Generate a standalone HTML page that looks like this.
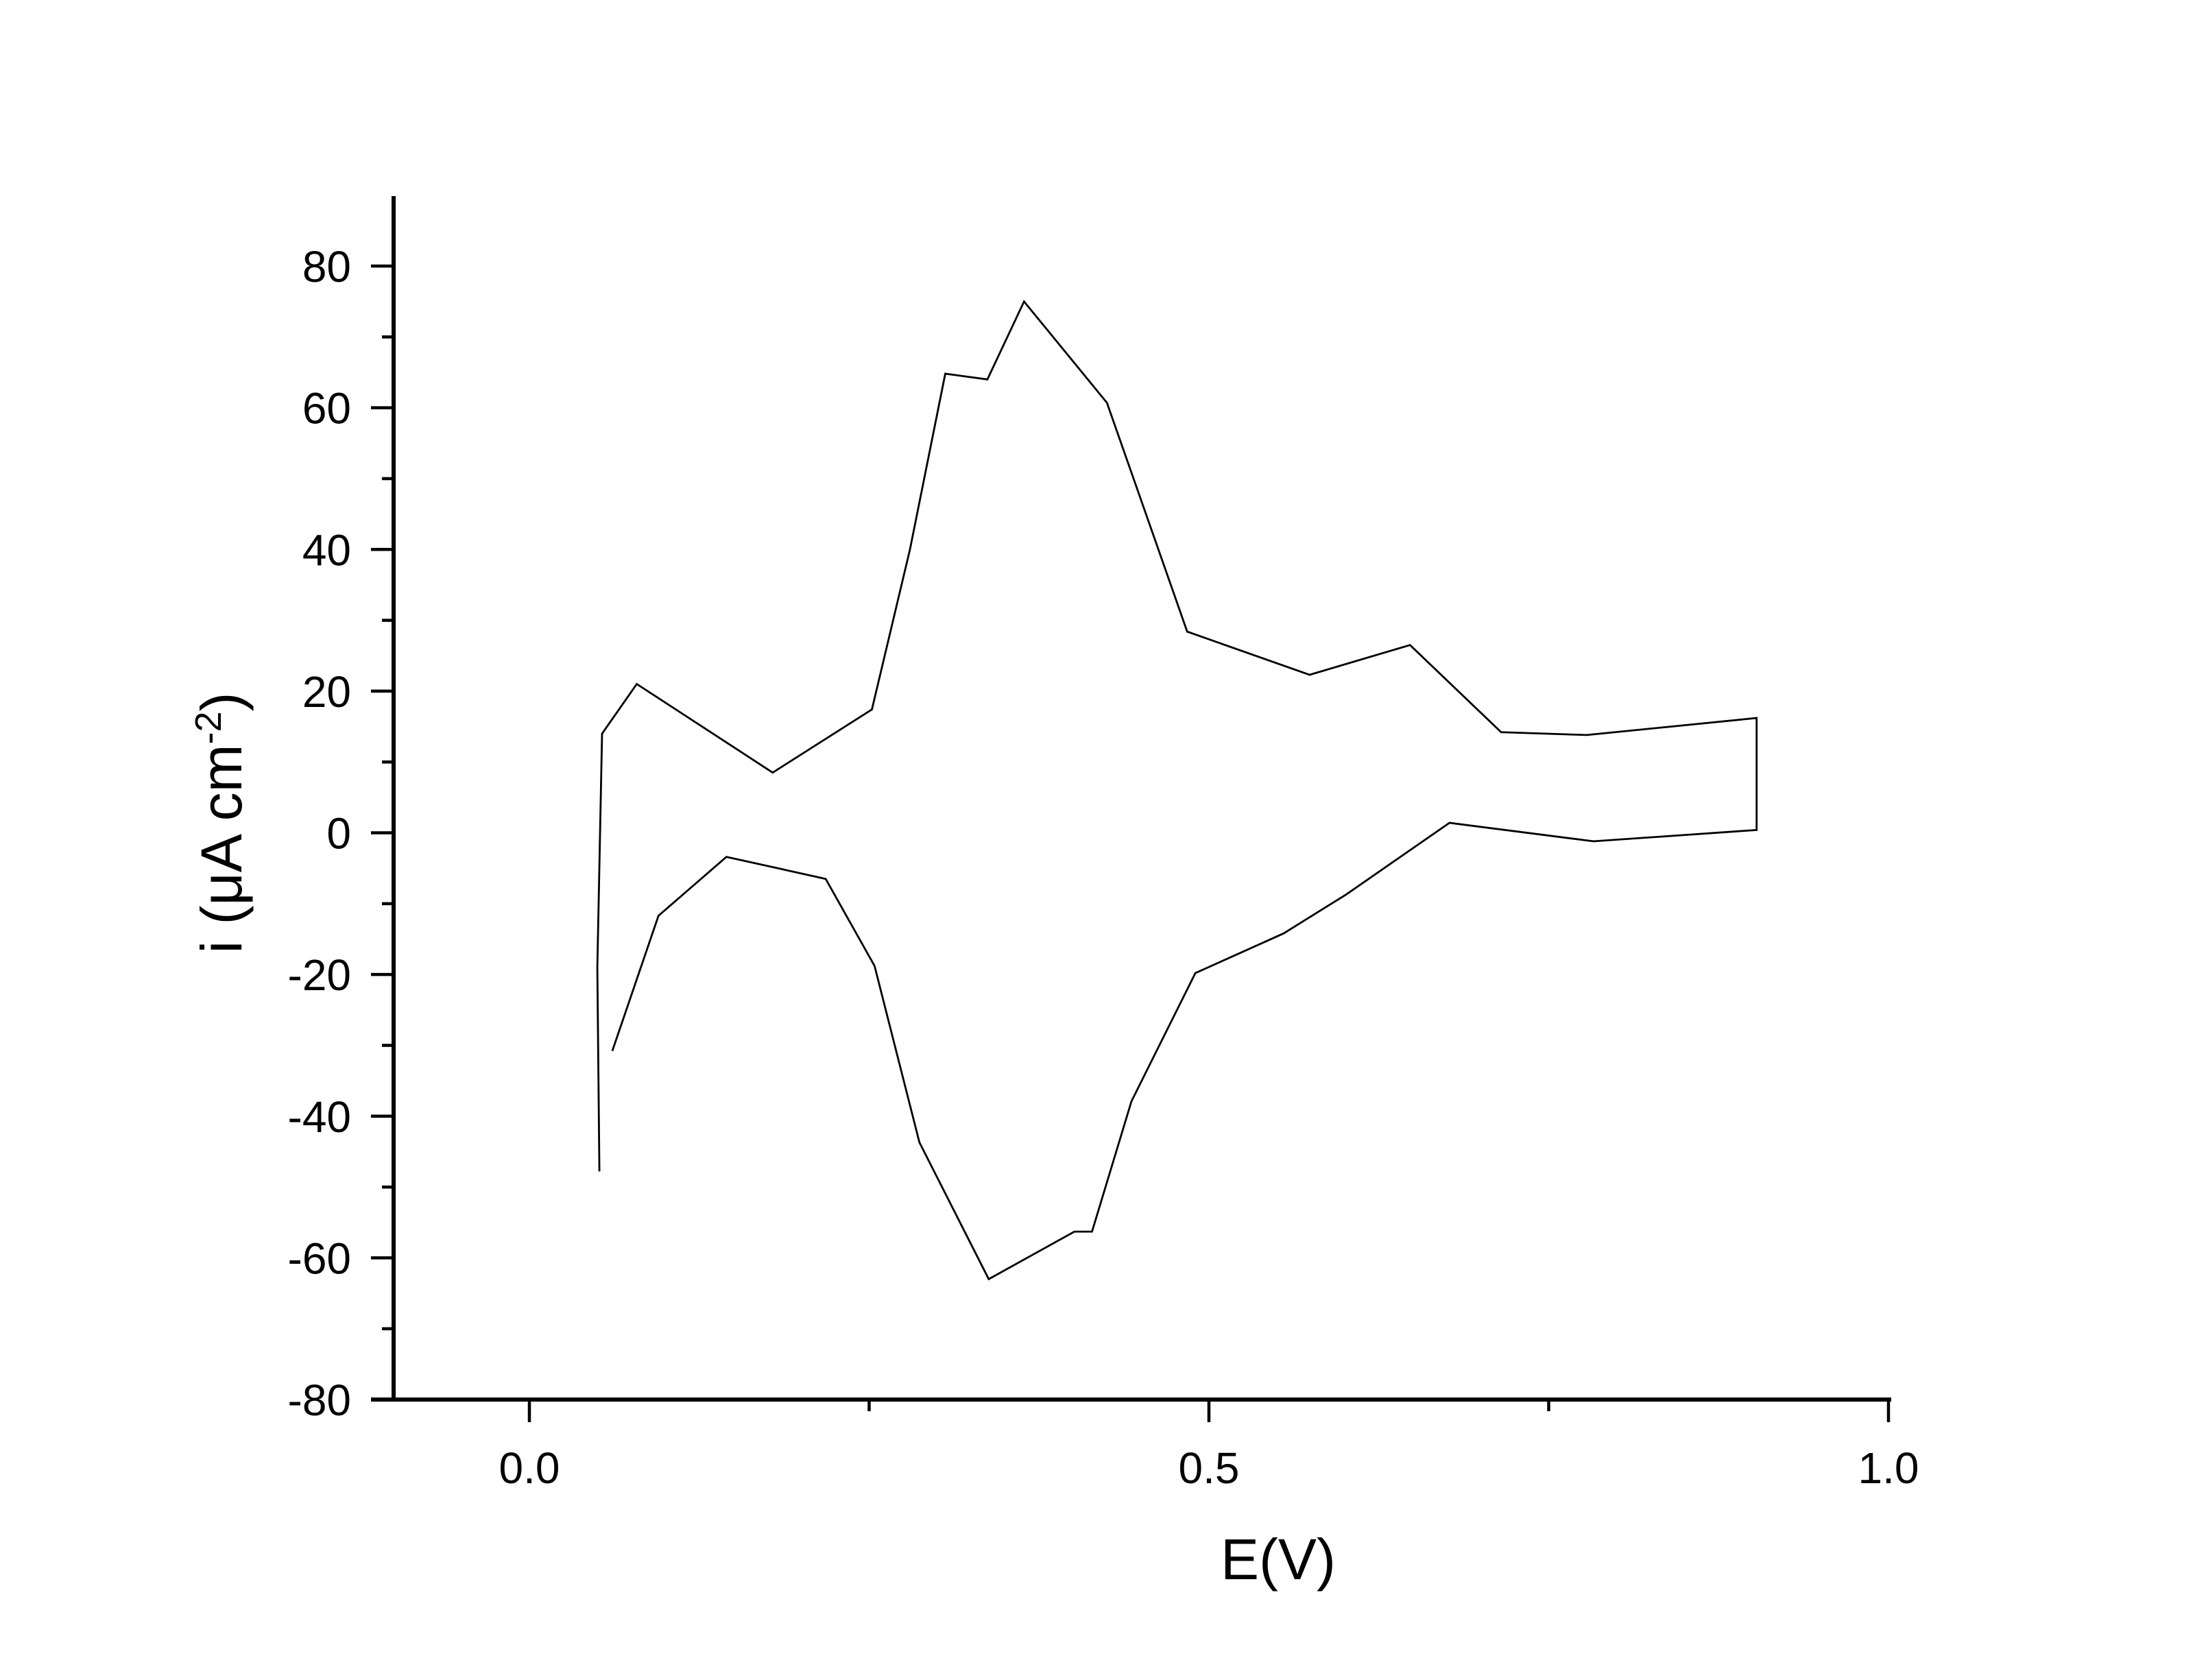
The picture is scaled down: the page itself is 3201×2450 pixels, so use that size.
<!DOCTYPE html>
<html><head><meta charset="utf-8"><style>html,body{margin:0;padding:0;background:#fff;}svg{display:block;}</style></head>
<body>
<svg id="chart" width="3201" height="2450" viewBox="0 0 3201 2450" xmlns="http://www.w3.org/2000/svg" font-family="Liberation Sans, Arial, sans-serif">
<rect width="3201" height="2450" fill="#fff"/>
<g id="axes"></g>
<path id="cv" fill="none" stroke="#000" stroke-width="2.8" stroke-linejoin="miter"/>
<text x="1864" y="2303" font-size="84" text-anchor="middle">E(V)</text>
<text transform="translate(352,1200) rotate(-90)" font-size="84" text-anchor="middle">i (μA cm<tspan dy="-30" font-size="54">-2</tspan><tspan dy="30">)</tspan></text>
</svg>
<script>
const potentials = [0.0515,0.050,0.0535,0.079,0.179,0.252,0.280,0.306,0.337,0.364,0.425,0.484,0.574,0.648,0.715,0.778,0.903,0.903,0.783,0.677,0.601,0.555,0.490,0.443,0.414,0.401,0.338,0.287,0.254,0.218,0.145,0.095,0.061];
const currents = [-47.8,-19,14,21,8.5,17.4,40,64.8,64,75,60.7,28.4,22.3,26.5,14.2,13.8,16.2,0.4,-1.2,1.4,-8.7,-14.2,-19.8,-37.9,-56.3,-56.3,-63,-43.7,-18.8,-6.5,-3.4,-11.7,-30.8];
const xTicks = [0,0.5,1.0];
const xTickLabels = ["0.0","0.5","1.0"];
const yTicks = [-80,-60,-40,-20,0,20,40,60,80];
const yTickLabels = ["-80","-60","-40","-20","0","20","40","60","80"];

const X = v => 772 + v*(2754-772);
const Y = v => 1214.5 - v*(1214.5-388)/80;
const NS="http://www.w3.org/2000/svg";
const axes=document.getElementById('axes');
function mk(tag,attrs){const e=document.createElementNS(NS,tag);for(const k in attrs)e.setAttribute(k,attrs[k]);axes.appendChild(e);return e;}
let e;
e=mk('line',{x1:574,y1:286,x2:574,y2:2044,stroke:'#000','stroke-width':6});


e=mk('line',{x1:541,y1:2041,x2:2758,y2:2041,stroke:'#000','stroke-width':6});


for(let v=-80;v<=80;v+=10){
  const major = v%20===0;
  e=mk('line',{x1:major?541:557,y1:Y(v),x2:574,y2:Y(v),stroke:'#000','stroke-width':4.5});
  
  
}
yTicks.forEach((v,i)=>{
  e=mk('text',{x:512,y:Y(v)+23,'font-size':64,'text-anchor':'end'});
  e.textContent=yTickLabels[i];
  
  
});
[0,0.25,0.5,0.75,1.0].forEach(v=>{
  const major = (v*100)%50===0;
  e=mk('line',{x1:X(v),y1:2041,x2:X(v),y2:major?2074:2058,stroke:'#000','stroke-width':4.5});
  
  
});
xTicks.forEach((v,i)=>{
  e=mk('text',{x:X(v),y:2163,'font-size':64,'text-anchor':'middle'});
  e.textContent=xTickLabels[i];
  
  
});
document.getElementById('cv').setAttribute('d', potentials.map((p,i)=>(i?'L':'M')+X(p).toFixed(1)+','+Y(currents[i]).toFixed(1)).join(' '));
</script>
</body></html>
